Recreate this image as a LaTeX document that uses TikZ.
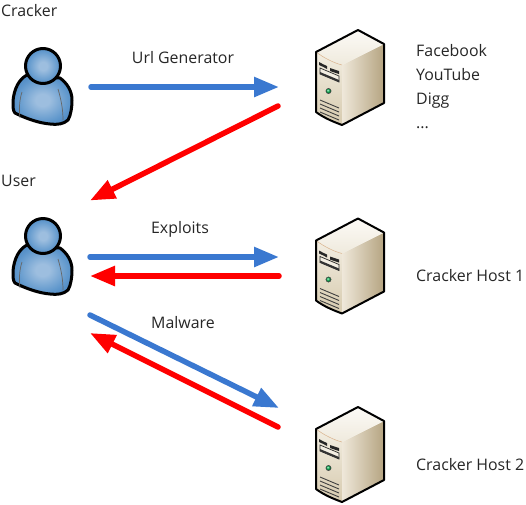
\documentclass[tikz,border=0pt]{standalone}
\usepackage{fontspec}
\setmainfont{Open Sans}
\usetikzlibrary{arrows.meta,shadings}
\definecolor{arrowblue}{HTML}{3A78D0}
\definecolor{arrowred}{HTML}{FF0000}
\definecolor{txt}{HTML}{262626}
\definecolor{personlight}{HTML}{9DBEDF}
\definecolor{personmid}{HTML}{5F97CC}
\definecolor{persondark}{HTML}{3A78B8}
\definecolor{frontlight}{HTML}{F3EEE2}
\definecolor{frontdark}{HTML}{D6CAAE}
\definecolor{sidelight}{HTML}{EFE8DA}
\definecolor{sidedark}{HTML}{B5A481}
\definecolor{toplight}{HTML}{FCFAF6}
\definecolor{topdark}{HTML}{EFEADD}
\pgfdeclareradialshading{personshade}{\pgfpointorigin}{
  color(0bp)=(personlight); color(6bp)=(personlight); color(22bp)=(personmid); color(36bp)=(persondark); color(50bp)=(persondark)}
\tikzset{
  flow/.style={line width=5.5pt,line cap=round,-{Triangle[length=25pt,width=19pt]}},
  blueflow/.style={flow,draw=arrowblue},
  redflow/.style={flow,draw=arrowred},
  label/.style={font=\fontsize{15.9}{18}\selectfont,text=txt,inner sep=0pt,anchor=base west},
  labelc/.style={label,anchor=base},
  outline/.style={draw=black,line width=3pt,line join=round},
  person/.pic={
    \path[outline,shading=personshade]
      (-16,-24) .. controls (-24,-20) and (-29,-10) .. (-30,2)
      .. controls (-30,8) and (-30,12) .. (-28,14)
      .. controls (-18,19) and (-5,24) .. (7,25)
      .. controls (14,26) and (21,25) .. (25,21)
      .. controls (28,16) and (29,8) .. (29,1)
      .. controls (29,-8) and (24,-16) .. (17,-21)
      -- cycle;
    \draw[line width=.7pt,draw=black!60] (-21,-7) .. controls (-24,2) and (-24,12) .. (-23,19);
    \draw[line width=.7pt,draw=black!60] (15,-10) .. controls (18,0) and (20,10) .. (20,21);
    \path[outline,shading=personshade] (0,-33) circle [radius=17.5];
  },
  server/.pic={
    \path[top color=frontlight,bottom color=frontdark] (26,35) -- (0,22) -- (0,82) .. controls (8,88) and (18,92) .. (26,95) -- cycle;
    \path[left color=sidelight,right color=sidedark] (26,35) -- (68,14) -- (68,73) -- (26,95) -- cycle;
    \path[top color=toplight,bottom color=topdark] (0,22) -- (42,0) -- (68,14) -- (26,35) .. controls (18,33) and (8,28) .. (0,22) -- cycle;
    \draw[line width=.5pt,draw=brown!60] (0,22) .. controls (8,28) and (18,33) .. (26,35);
    \draw[line width=2pt,line join=round,draw=black] (0,22) -- (42,0) -- (68,14) -- (68,73) -- (26,95) .. controls (18,92) and (8,88) .. (0,82) -- cycle;
    \fill[black!85] (3,35) .. controls (6,36) and (9,38) .. (11,39) -- (11,36) .. controls (9,35) and (6,34) .. (3,32) -- cycle;
    \fill[black!85] (14,41) -- (23,44) -- (23,41) -- (14,38) -- cycle;
    \path[draw=black!85,line width=.7pt,fill=frontlight] (4,44) -- (23,52) -- (23,46) -- (4,38) -- cycle;
    \fill[black!80] (4,44) -- (23,52) -- (23,50) -- (4,42) -- cycle;
    \path[draw=black!70,line width=.5pt,ball color=teal!60!green] (12.5,61) circle [radius=2.6];
    \foreach \yy in {0,1,2,3} {
      \draw[line width=.9pt,draw=black!75] (4,{70+\yy*4}) -- (23,{78+\yy*4});
    }
  },
}
\begin{document}
\begin{tikzpicture}[x=1pt,y=-1pt]
\useasboundingbox (0,0) rectangle (526,504);
\pic at (43,99) {person};
\pic at (43,269) {person};
\pic at (316,30) {server};
\pic at (316,218.5) {server};
\pic at (316,407) {server};

\node[label] (cracker) at (1,16) {Cracker};
\node[label] (user) at (1,186) {User};
\node[labelc] (urlgen) at (183,63) {Url Generator};
\node[labelc] (exploits) at (180,233) {Exploits};
\node[labelc] (malware) at (183,328) {Malware};
\node[label] (s1) at (416,56) {Facebook};
\node[label] (s2) at (416,80) {YouTube};
\node[label] (s3) at (416,104) {Digg};
\node[label] (s4) at (416,128) {...};
\node[label] (host1) at (416,281) {Cracker Host 1};
\node[label] (host2) at (416,470) {Cracker Host 2};

\coordinate (a1s) at (91,87);
\coordinate (a1e) at (279,87);
\coordinate (a2s) at (278,106);
\coordinate (a2e) at (90,200.5);
\coordinate (a3s) at (90,257);
\coordinate (a3e) at (279,257);
\coordinate (a4s) at (279,276);
\coordinate (a4e) at (90,276);
\coordinate (a5s) at (90,315);
\coordinate (a5e) at (279,408);
\coordinate (a6s) at (278,427);
\coordinate (a6e) at (90,333);
\draw[blueflow] (a1s) -- (a1e);
\draw[redflow] (a2s) -- (a2e);
\draw[blueflow] (a3s) -- (a3e);
\draw[redflow] (a4s) -- (a4e);
\draw[blueflow] (a5s) -- (a5e);
\draw[redflow] (a6s) -- (a6e);
\end{tikzpicture}
\end{document}
